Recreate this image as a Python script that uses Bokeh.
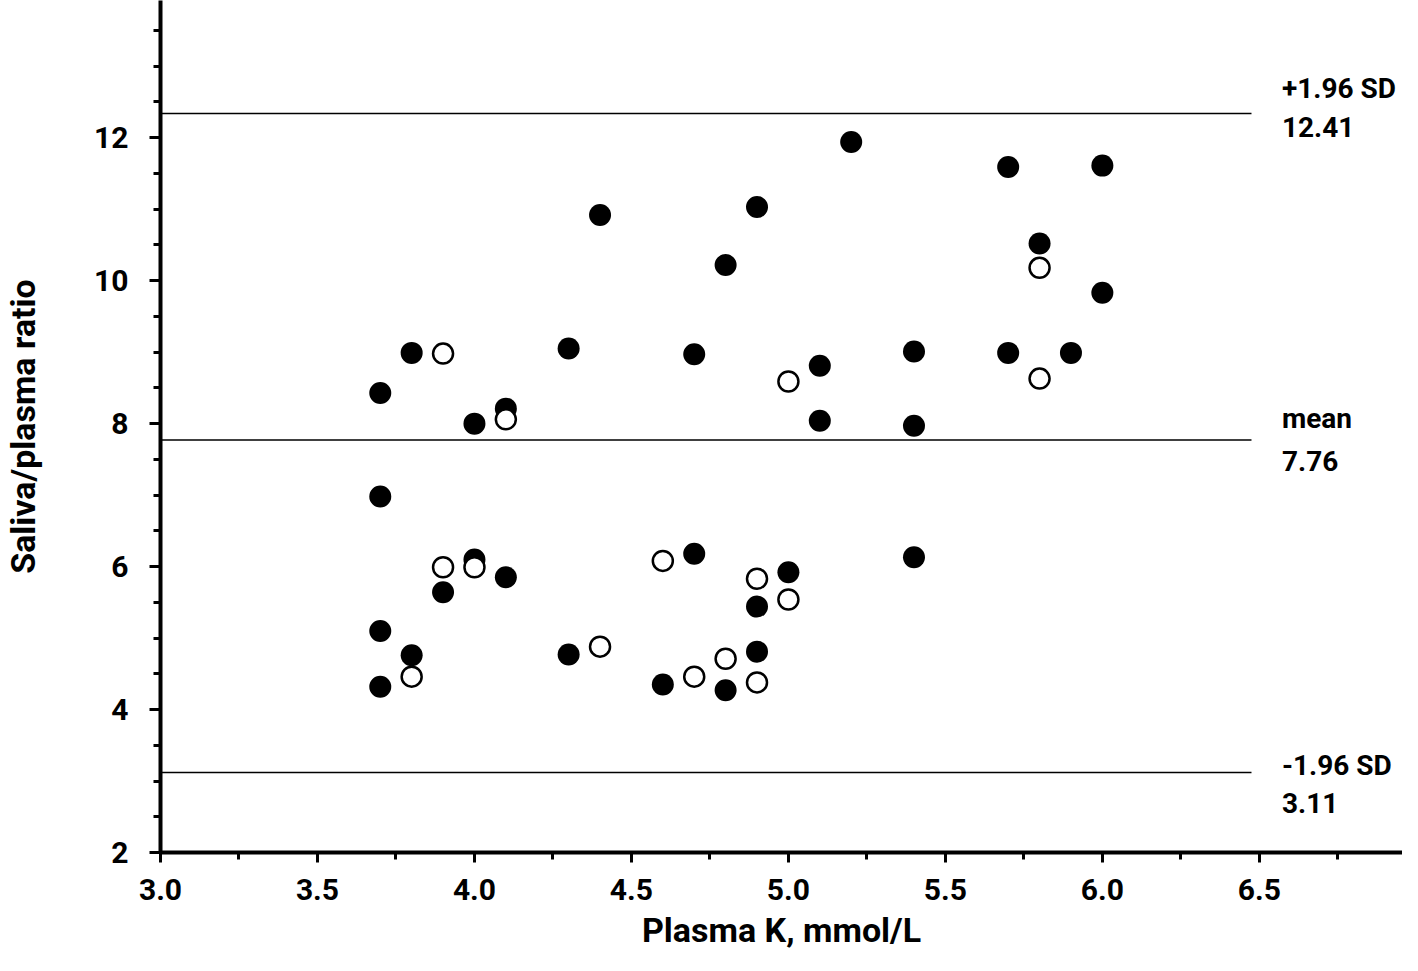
from bokeh.plotting import figure
from bokeh.models import Label, SingleIntervalTicker, PrintfTickFormatter, Range1d, ColumnDataSource
from bokeh.embed import file_html
from bokeh.resources import INLINE

# ---- data ----
filled_x = [3.7, 3.7, 3.7, 3.7, 3.8, 3.8, 3.9, 4.0, 4.0, 4.1, 4.1, 4.3, 4.3, 4.4, 4.6,
            4.7, 4.7, 4.8, 4.8, 4.9, 4.9, 4.9, 5.0, 5.1, 5.1, 5.2, 5.4, 5.4, 5.4,
            5.7, 5.7, 5.8, 5.9, 6.0, 6.0]
filled_y = [8.43, 6.98, 5.10, 4.32, 8.99, 4.76, 5.64, 8.00, 6.10, 8.21, 5.85, 9.05, 4.77, 10.92, 4.35,
            8.97, 6.18, 10.22, 4.27, 11.03, 5.44, 4.81, 5.92, 8.81, 8.04, 11.94, 9.01, 7.97, 6.13,
            11.59, 8.99, 10.52, 8.99, 11.61, 9.83]

open_x = [3.8, 3.9, 3.9, 4.0, 4.1, 4.4, 4.6, 4.7, 4.8, 4.9, 4.9, 5.0, 5.0, 5.8, 5.8]
open_y = [4.46, 8.98, 5.99, 5.99, 8.06, 4.88, 6.08, 4.46, 4.71, 5.83, 4.38, 8.59, 5.54, 10.18, 8.63]

ref_values = [12.34, 7.77, 3.12]          # horizontal reference lines as drawn
ref_names = ["+1.96 SD", "mean", "-1.96 SD"]
ref_numbers = ["12.41", "7.76", "3.11"]

x_title = "Plasma K, mmol/L"
y_title = "Saliva/plasma ratio"

# ---- layout / style constants ----
X_START, X_END = 3.0, 6.956
Y_START, Y_END = 2.0, 13.92
LINE_END_X = 6.475
LABEL_X = 6.572
name_offsets = [25, 22, 7]        # px, positive = up
number_offsets = [-14, -21, -31]
FONT = "Roboto"

p = figure(width=1402, height=963,
           x_range=Range1d(X_START, X_END), y_range=Range1d(Y_START, Y_END),
           output_backend="svg", toolbar_location=None,
           min_border_left=152, min_border_right=0, min_border_top=0, min_border_bottom=111)
p.outline_line_color = None
p.grid.visible = False
p.background_fill_color = "white"
p.border_fill_color = "white"

# reference lines
ref_src = ColumnDataSource(dict(x0=[X_START] * 3, x1=[LINE_END_X] * 3, y=ref_values))
p.segment(x0="x0", y0="y", x1="x1", y1="y", source=ref_src, line_color="black", line_width=1.5)

# points
p.scatter(filled_x, filled_y, size=22, fill_color="black", line_color=None)
p.scatter(open_x, open_y, size=20, fill_color="white", line_color="black", line_width=2.5)

# labels
for val, name, num, o1, o2 in zip(ref_values, ref_names, ref_numbers, name_offsets, number_offsets):
    for txt, off in ((name, o1), (num, o2)):
        p.add_layout(Label(x=LABEL_X, y=val, text=txt, y_offset=off,
                           text_font=FONT, text_font_style="bold", text_font_size="28px",
                           text_color="black", text_align="left", text_baseline="alphabetic"))

# axes
xa = p.xaxis[0]
xa.ticker = SingleIntervalTicker(interval=0.5, num_minor_ticks=2)
xa.formatter = PrintfTickFormatter(format="%.1f")
xa.major_tick_out = 10
xa.minor_tick_out = 7
xa.major_label_standoff = 16
xa.axis_label = x_title
xa.axis_label_standoff = 7

ya = p.yaxis[0]
ya.ticker = SingleIntervalTicker(interval=2, num_minor_ticks=4)
ya.major_tick_out = 11
ya.minor_tick_out = 7
ya.major_label_standoff = 21
ya.axis_label = y_title
ya.axis_label_standoff = 48

for ax in (xa, ya):
    ax.axis_line_width = 4
    ax.axis_line_color = "black"
    ax.major_tick_in = 0
    ax.minor_tick_in = 0
    ax.major_tick_line_width = 3
    ax.minor_tick_line_width = 3
    ax.major_tick_line_color = "black"
    ax.minor_tick_line_color = "black"
    ax.major_label_text_font = FONT
    ax.major_label_text_font_style = "bold"
    ax.major_label_text_font_size = "30px"
    ax.major_label_text_color = "black"
    ax.major_label_text_line_height = 0.8
    ax.axis_label_text_font = FONT
    ax.axis_label_text_font_style = "bold"
    ax.axis_label_text_font_size = "34px"
    ax.axis_label_text_color = "black"
    ax.axis_label_text_line_height = 0.7

open("out.html", "w").write(file_html(p, INLINE))
